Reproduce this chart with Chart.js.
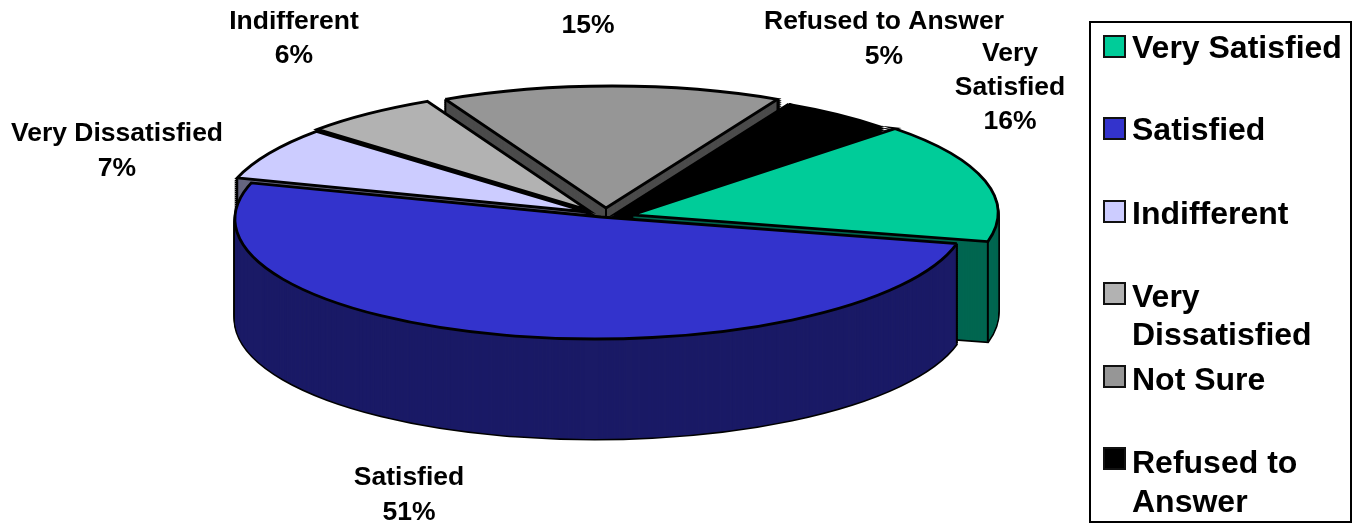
<!DOCTYPE html>
<html>
<head>
<meta charset="utf-8">
<style>html,body{margin:0;padding:0;background:#fff;overflow:hidden}#wrap{width:1356px;height:527px;position:relative}</style>
<script src="https://cdn.jsdelivr.net/npm/chart.js@4"></script>
</head>
<body>
<div id="wrap"><canvas id="c" width="1356" height="527"></canvas></div>
<script>
// ---- data ----
const categories = ["Very Satisfied", "Satisfied", "Indifferent", "Very Dissatisfied", "Not Sure", "Refused to Answer"];
const values = [16, 51, 7, 6, 15, 5];
const sliceColors = ["#00CC99", "#3333CC", "#CCCCFF", "#B2B2B2", "#969696", "#000000"];
const wallColors = ["#006650", "#1A1A66", "#666680", "#595959", "#4B4B4B", "#000000"];

// ---- 3D look ----
const pie = { cx: 604, cy: 213, rx: 366, ry: 122, depth: 100, rotation: 45, skew: -0.05 };
const explodeShift = [[28, 2], [-3, 4], [-17, -1], [-16, -3], [2, -5], [13, 0]];
const paintOrder = [4, 5, 3, 2, 0, 1];

// ---- text ----
const FONT_LABEL = 'bold 26.5px "Liberation Sans", Arial, sans-serif';
const FONT_LEGEND = 'bold 32px "Liberation Sans", Arial, sans-serif';
const dataLabels = [
  { lines: ["Very", "Satisfied", "16%"], x: 1010, y: [54, 88, 122] },
  { lines: ["Satisfied", "51%"], x: 409, y: [478, 513] },
  { lines: ["Very Dissatisfied", "7%"], x: 117, y: [134, 169] },
  { lines: ["Indifferent", "6%"], x: 294, y: [22, 56] },
  { lines: ["15%"], x: 588, y: [26] },
  { lines: ["Refused to Answer", "5%"], x: 884, y: [22, 57] }
];
const legendLines = [
  { lines: ["Very Satisfied"], y: [49], box: 46 },
  { lines: ["Satisfied"], y: [131], box: 128 },
  { lines: ["Indifferent"], y: [215], box: 211 },
  { lines: ["Very", "Dissatisfied"], y: [298, 336], box: 293 },
  { lines: ["Not Sure"], y: [381], box: 376 },
  { lines: ["Refused to", "Answer"], y: [464, 503], box: 458 }
];
const legendBox = { x: 1090, y: 22, w: 261, h: 500 };

const pie3d = {
  id: 'pie3d',
  beforeDatasetsDraw(chart) {
    const ctx = chart.ctx, meta = chart.getDatasetMeta(0);
    const uniformStroke = CanvasRenderingContext2D.prototype.stroke;
    ctx.stroke = function () {
      ctx.save(); ctx.setTransform(1, 0, 0, 1, 0, 0); uniformStroke.call(ctx); ctx.restore();
    };
    const paint = (arc, i, dy, fill, stroke, width) => {
      const base = arc.options, R = arc.outerRadius;
      arc.options = Object.assign({}, base, { backgroundColor: fill, borderColor: stroke, borderWidth: width, borderJoinStyle: 'miter' });
      ctx.save();
      ctx.translate(pie.cx + explodeShift[i][0], pie.cy + explodeShift[i][1] + dy);
      ctx.transform(1, 0, pie.skew, 1, 0, 0);
      ctx.scale(pie.rx / R, pie.ry / R);
      ctx.translate(-arc.x, -arc.y);
      arc.draw(ctx);
      ctx.restore();
      arc.options = base;
    };
    const TAU = Math.PI * 2;
    const inWedge = (arc, ang) => {
      const s = ((ang - arc.startAngle) % TAU + TAU) % TAU;
      return s <= arc.endAngle - arc.startAngle;
    };
    paintOrder.forEach(i => {
      const arc = meta.data[i];
      const clear = 'rgba(0,0,0,0)';
      for (let d = pie.depth; d >= 1; d -= 2) paint(arc, i, d, clear, '#000', 3);
      for (let d = pie.depth; d >= 1; d--) paint(arc, i, d, wallColors[i], clear, 0);
      // vertical edges of the wedge, only where the solid exposes them
      const ox = pie.cx + explodeShift[i][0], oy = pie.cy + explodeShift[i][1];
      ctx.save();
      ctx.strokeStyle = '#000'; ctx.lineWidth = 2;
      [arc.startAngle, arc.endAngle].forEach(a => {
        const ex = pie.rx * Math.cos(a), ey = pie.ry * Math.sin(a);
        const below = Math.atan2((ey + 8) / pie.ry, ex / pie.rx);
        if (Math.sin(a) < 0 && inWedge(arc, below)) return;
        const px = ox + ex + pie.skew * ey, py = oy + ey;
        ctx.beginPath(); ctx.moveTo(px, py); ctx.lineTo(px, py + pie.depth); ctx.stroke();
      });
      ctx.beginPath(); ctx.moveTo(ox, oy); ctx.lineTo(ox, oy + pie.depth); ctx.stroke();
      ctx.restore();
      paint(arc, i, 0, sliceColors[i], '#000', 2.8);
    });
    delete ctx.stroke;
    return false;
  },
  afterDraw(chart) {
    const ctx = chart.ctx;
    ctx.save();
    ctx.fillStyle = '#000';
    ctx.textBaseline = 'middle';
    ctx.font = FONT_LABEL;
    ctx.textAlign = 'center';
    ctx.beginPath(); ctx.rect(0, 11, 1356, 516); ctx.clip();
    dataLabels.forEach(l => l.lines.forEach((t, k) => ctx.fillText(t, l.x, l.y[k])));
    ctx.restore();

    ctx.save();
    ctx.strokeStyle = '#000'; ctx.lineWidth = 2;
    ctx.strokeRect(legendBox.x, legendBox.y, legendBox.w, legendBox.h);
    ctx.font = FONT_LEGEND; ctx.textBaseline = 'middle'; ctx.textAlign = 'left';
    legendLines.forEach((l, i) => {
      ctx.fillStyle = sliceColors[i];
      ctx.fillRect(1104, l.box - 10, 21, 21);
      ctx.strokeStyle = '#111';
      ctx.strokeRect(1104, l.box - 10, 21, 21);
      ctx.fillStyle = '#000';
      l.lines.forEach((t, k) => ctx.fillText(t, 1132, l.y[k]));
    });
    ctx.restore();
  }
};

new Chart(document.getElementById('c'), {
  type: 'pie',
  data: {
    labels: categories,
    datasets: [{ data: values, backgroundColor: sliceColors, borderColor: '#000', borderWidth: 2 }]
  },
  options: {
    responsive: false,
    animation: false,
    rotation: pie.rotation,
    plugins: { legend: { display: false }, tooltip: { enabled: false } },
    events: []
  },
  plugins: [pie3d]
});
</script>
</body>
</html>
